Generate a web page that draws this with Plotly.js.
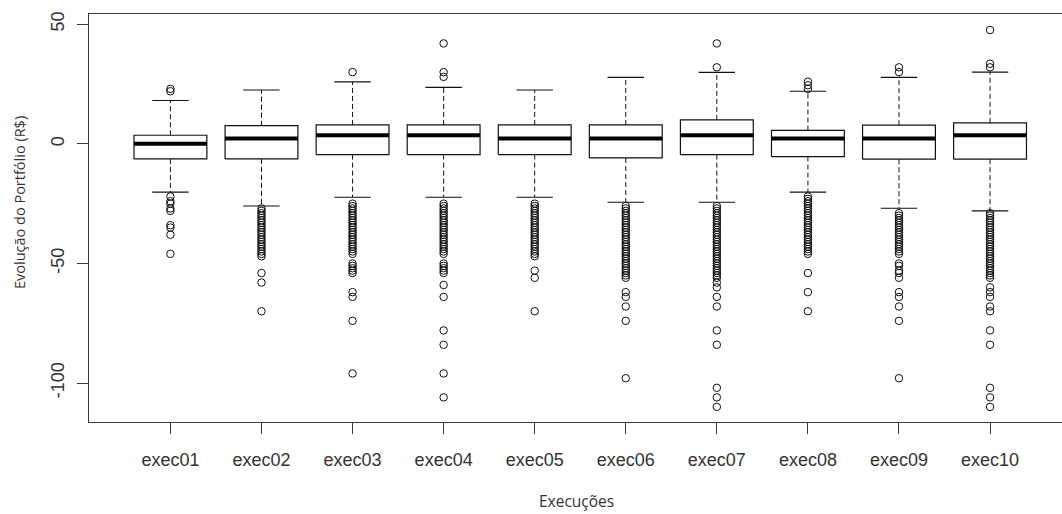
<!DOCTYPE html>
<html>
<head>
<meta charset="utf-8">
<script src="https://cdn.plot.ly/plotly-3.0.1.min.js"></script>
<style>html,body{margin:0;padding:0;background:#fff;}#chart{width:1062px;height:514px;}</style>
</head>
<body>
<div id="chart"></div>
<script>
// ---- data ----
const categories = ["exec01","exec02","exec03","exec04","exec05","exec06","exec07","exec08","exec09","exec10"];
const q1     = [-6.3, -6.3, -4.5, -4.5, -4.5, -5.9, -4.5, -5.3, -6.4, -6.4];
const median = [ 0.0,  2.2,  3.6,  3.6,  2.2,  2.2,  3.6,  2.2,  2.2,  3.6];
const q3     = [ 3.6,  7.6,  7.9,  7.9,  7.9,  7.9, 10.0,  5.6,  7.8,  8.8];
const lowerWhisker = [-20.2, -26.0, -22.3, -22.3, -22.3, -24.4, -24.4, -20.2, -26.9, -28.0];
const upperWhisker = [ 18.1,  22.5,  25.9,  23.6,  22.5,  27.8,  29.9,  22.0,  27.8,  30.0];

const outliers01 = [23, 22, -22, -24, -25, -27, -28, -34, -35, -38, -46];
const outliers02 = [-27, -28, -29, -30, -31, -32, -33, -34, -35, -36, -37, -38, -39, -40, -41, -42, -43, -44, -45, -46, -47, -54, -58, -70];
const outliers03 = [30, -25, -26, -27, -28, -29, -30, -31, -32, -33, -34, -35, -36, -37, -38, -39, -40, -41, -42, -43, -44, -45, -46, -50, -51, -52, -53, -54, -62, -64, -74, -96];
const outliers04 = [28, 30, 42, -25, -26, -27, -28, -29, -30, -31, -32, -33, -34, -35, -36, -37, -38, -39, -40, -41, -42, -43, -44, -45, -46, -50, -51, -52, -53, -54, -59, -64, -78, -84, -96, -106];
const outliers05 = [-25, -26, -27, -28, -29, -30, -31, -32, -33, -34, -35, -36, -37, -38, -39, -40, -41, -42, -43, -44, -45, -46, -47, -53, -56, -70];
const outliers06 = [-26, -27, -28, -29, -30, -31, -32, -33, -34, -35, -36, -37, -38, -39, -40, -41, -42, -43, -44, -45, -46, -47, -48, -49, -50, -51, -52, -53, -54, -55, -56, -62, -64, -68, -74, -98];
const outliers07 = [32, 42, -26, -27, -28, -29, -30, -31, -32, -33, -34, -35, -36, -37, -38, -39, -40, -41, -42, -43, -44, -45, -46, -47, -48, -49, -50, -51, -52, -53, -54, -55, -56, -58, -60, -64, -68, -78, -84, -102, -106, -110];
const outliers08 = [23, 24.5, 26, -22, -23, -24, -25, -26, -27, -28, -29, -30, -31, -32, -33, -34, -35, -36, -37, -38, -39, -40, -41, -42, -43, -44, -45, -46, -54, -62, -70];
const outliers09 = [30, 32, -29, -30, -31, -32, -33, -34, -35, -36, -37, -38, -39, -40, -41, -42, -43, -44, -45, -46, -50, -51, -53, -54, -56, -62, -64, -68, -74, -98];
const outliers10 = [32, 33.5, 47.6, -29, -30, -31, -32, -33, -34, -35, -36, -37, -38, -39, -40, -41, -42, -43, -44, -45, -46, -47, -48, -49, -50, -51, -52, -53, -54, -55, -56, -60, -62, -64, -68, -70, -78, -84, -102, -106, -110];
const outlierLists = [outliers01, outliers02, outliers03, outliers04, outliers05, outliers06, outliers07, outliers08, outliers09, outliers10];

const yTicks = [-100, -50, 0, 50];
const xTitle = "Execuções";
const yTitle = "Evolução do Portfólio (R$)";

// ---- build marks ----
const halfBox = 0.4, halfStaple = 0.2;
const bx = [], by = [], mx = [], my = [], wx = [], wy = [], sx = [], sy = [], ox = [], oy = [];
categories.forEach((c, k) => {
  const i = k + 1;
  bx.push(i - halfBox, i + halfBox, i + halfBox, i - halfBox, i - halfBox, null);
  by.push(q1[k], q1[k], q3[k], q3[k], q1[k], null);
  mx.push(i - halfBox, i + halfBox, null);
  my.push(median[k], median[k], null);
  wx.push(i, i, null, i, i, null);
  wy.push(q3[k], upperWhisker[k], null, q1[k], lowerWhisker[k], null);
  sx.push(i - halfStaple, i + halfStaple, null, i - halfStaple, i + halfStaple, null);
  sy.push(upperWhisker[k], upperWhisker[k], null, lowerWhisker[k], lowerWhisker[k], null);
  outlierLists[k].forEach(v => { ox.push(i); oy.push(v); });
});

const ink = "#111";
const traces = [
  {type: "scatter", mode: "lines", x: wx, y: wy, line: {color: ink, width: 1, dash: "5px,3px"}, hoverinfo: "skip", showlegend: false},
  {type: "scatter", mode: "lines", x: sx, y: sy, line: {color: ink, width: 1.1}, hoverinfo: "skip", showlegend: false},
  {type: "scatter", mode: "lines", x: bx, y: by, line: {color: ink, width: 1.2}, hoverinfo: "skip", showlegend: false},
  {type: "scatter", mode: "lines", x: mx, y: my, line: {color: "#000", width: 4}, hoverinfo: "skip", showlegend: false},
  {type: "scatter", mode: "markers", x: ox, y: oy, marker: {symbol: "circle-open", size: 7.5, color: ink, line: {width: 1, color: ink}}, showlegend: false}
];

const axisColor = "#3a3a3a";
const layout = {
  width: 1062, height: 514,
  margin: {l: 89, r: 0, t: 14, b: 92, pad: 0},
  paper_bgcolor: "#fff", plot_bgcolor: "#fff",
  showlegend: false,
  font: {family: "Liberation Sans, Arial, sans-serif", color: "#333"},
  xaxis: {
    range: [0.106, 10.79], tickmode: "array",
    tickvals: categories.map((c, k) => k + 1), ticktext: categories,
    showgrid: false, zeroline: false,
    showline: true, mirror: true, linecolor: axisColor, linewidth: 1.3,
    ticks: "outside", ticklen: 11, tickcolor: axisColor, tickwidth: 1,
    ticklabelstandoff: 10,
    tickfont: {family: "Liberation Sans, Arial, sans-serif", size: 18, color: "#333"}
  },
  yaxis: {
    range: [-116.3, 54.3], tickmode: "array", tickvals: yTicks, ticktext: yTicks.map(String),
    tickangle: -90,
    showgrid: false, zeroline: false,
    showline: true, mirror: false, linecolor: axisColor, linewidth: 1.3,
    ticks: "outside", ticklen: 11, tickcolor: axisColor, tickwidth: 1,
    ticklabelstandoff: 6,
    tickfont: {family: "Liberation Sans, Arial, sans-serif", size: 18, color: "#333"}
  },
  annotations: [
    {text: xTitle, xref: "paper", yref: "paper", x: (576 - 89) / 973, y: -(501 - 422) / 408, xanchor: "center", yanchor: "middle",
     showarrow: false, font: {family: "Open Sans, sans-serif", size: 15.5, color: "#333"}},
    {text: yTitle, xref: "paper", yref: "paper", x: -(89 - 19) / 973, y: (422 - 203) / 408, xanchor: "center", yanchor: "middle",
     textangle: -90, showarrow: false, font: {family: "Open Sans, sans-serif", size: 14.5, color: "#333"}}
  ]
};

Plotly.newPlot("chart", traces, layout, {staticPlot: true, displayModeBar: false});
</script>
</body>
</html>
